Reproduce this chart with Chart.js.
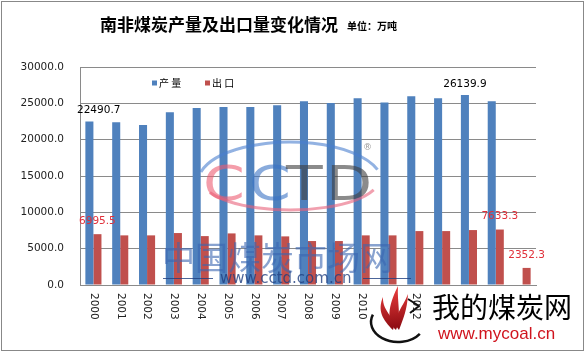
<!DOCTYPE html>
<html>
<head>
<meta charset="utf-8">
<script src="https://cdn.jsdelivr.net/npm/chart.js@4.4.1/dist/chart.umd.min.js"></script>
<style>
  html, body { margin: 0; padding: 0; background: #fff; }
  #wrap { width: 586px; height: 353px; position: relative; }
</style>
</head>
<body>
<div id="wrap"><canvas id="c" width="586" height="353"></canvas></div>
<script>
const years = ['2000','2001','2002','2003','2004','2005','2006','2007','2008','2009','2010','2011','2012','2013','2014','2015','2016'];
const production = [22490.7, 22400, 22030, 23780, 24370, 24500, 24480, 24740, 25290, 25060, 25700, 25100, 25970, 25700, 26139.9, 25290, null];
const exportsData = [6995.5, 6830, 6830, 7150, 6730, 7100, 6830, 6690, 6050, 6050, 6830, 6830, 7420, 7420, 7560, 7633.3, 2352.3];
const yTicks = [0, 5000, 10000, 15000, 20000, 25000, 30000];
const seriesNames = ['产 量', '出 口'];
const prodLabelIdx = [0, 14];
const expLabelIdx = [0, 15, 16];
const titleText = '南非煤炭产量及出口量变化情况';
const unitText = '单位：万吨';

const BLUE = '#4F81BD', RED = '#C0504D', GRID = '#8a8a8a';
const NUMFONT = '10.5px "DejaVu Sans", Verdana, sans-serif';

function flame(ctx, bx, by, tx, ty, w) {
  // teardrop flame from base (bx,by) to tip (tx,ty)
  ctx.beginPath();
  ctx.moveTo(bx, by);
  ctx.bezierCurveTo(bx - w, by - 10, tx - w * 0.6, ty + 14, tx, ty);
  ctx.bezierCurveTo(tx - w * 0.1, ty + 16, bx + w * 0.5, by - 12, bx, by);
  ctx.closePath();
  ctx.fill();
}

const decorPlugin = {
  id: 'decor',
  afterDraw(chart) {
    const ctx = chart.ctx;
    const ca = chart.chartArea;
    const xs = chart.scales.x;
    ctx.save();
    // title
    ctx.fillStyle = '#000';
    ctx.textBaseline = 'middle';
    ctx.textAlign = 'left';
    ctx.font = 'bold 17px "Noto Sans CJK SC", sans-serif';
    ctx.fillText(titleText, 100, 25);
    ctx.font = 'bold 10px "Noto Sans CJK SC", sans-serif';
    ctx.fillText(unitText, 347, 26);

    // legend
    const ly = 83;
    const items = [[ca.left + 72, BLUE, seriesNames[0]], [ca.left + 125, RED, seriesNames[1]]];
    ctx.font = '10px "Noto Sans CJK SC", sans-serif';
    items.forEach(([x, col, name]) => {
      ctx.fillStyle = col;
      ctx.fillRect(x, ly - 2.5, 5, 5);
      ctx.fillStyle = '#000';
      ctx.fillText(name, x + 7, ly);
    });

    // x labels rotated clockwise
    ctx.fillStyle = '#222';
    ctx.font = NUMFONT;
    ctx.textAlign = 'left';
    ctx.textBaseline = 'middle';
    years.forEach((y, i) => {
      const x = xs.getPixelForValue(i);
      ctx.save();
      ctx.translate(x, ca.bottom + 8);
      ctx.rotate(Math.PI / 2);
      ctx.fillText(y, 0, 0);
      ctx.restore();
    });

    // data labels
    ctx.font = NUMFONT;
    ctx.textAlign = 'center';
    ctx.textBaseline = 'middle';
    const m0 = chart.getDatasetMeta(0), m1 = chart.getDatasetMeta(1);
    const drawLab = (el, val, col, dy) => {
      const txt = val.toFixed(1);
      const w = ctx.measureText(txt).width;
      let x = el.x;
      if (x - w / 2 < ca.left - 3) x = ca.left - 3 + w / 2;
      ctx.fillStyle = col;
      ctx.fillText(txt, x, el.y - dy);
    };
    prodLabelIdx.forEach(i => drawLab(m0.data[i], production[i], '#000', 11));
    expLabelIdx.forEach(i => drawLab(m1.data[i], exportsData[i], '#E0303A', 13));

    // CCTD watermark (faint)
    ctx.globalAlpha = 0.6;
    ctx.lineWidth = 3;
    ctx.strokeStyle = '#4a7fcf';
    ctx.beginPath();
    ctx.ellipse(290, 182, 92, 40, 0, 1.08 * Math.PI, 1.9 * Math.PI);
    ctx.stroke();
    ctx.strokeStyle = '#e8607a';
    ctx.beginPath();
    ctx.ellipse(290, 178, 90, 32, 0, 0.12 * Math.PI, 0.85 * Math.PI);
    ctx.stroke();
    ctx.textAlign = 'left';
    ctx.textBaseline = 'alphabetic';
    const letter = (ch, x, col) => {
      ctx.save();
      ctx.translate(x, 200);
      ctx.scale(1.25, 1);
      ctx.fillStyle = col;
      ctx.font = '48px "DejaVu Sans", sans-serif';
      ctx.fillText(ch, 0, 0);
      ctx.restore();
    };
    letter('C', 203, '#ec5b72');
    letter('C', 249, '#3b73c4');
    letter('T', 286, '#3d3d3d');
    letter('D', 326, '#3d3d3d');
    ctx.font = '9px "DejaVu Sans", sans-serif';
    ctx.fillStyle = '#555';
    ctx.fillText('®', 363, 150);
    ctx.textBaseline = 'middle';
    ctx.font = '33px "Noto Sans CJK SC", sans-serif';
    ctx.fillStyle = '#3a66b0';
    ctx.fillText('中国煤炭市场网', 162, 257);
    ctx.globalAlpha = 0.8;
    ctx.fillStyle = '#1f3f80';
    ctx.fillRect(163, 278, 50, 1);
    ctx.fillRect(363, 278, 48, 1);
    ctx.font = '15px "DejaVu Sans", sans-serif';
    ctx.fillText('www.cctd.com.cn', 220, 279);
    ctx.globalAlpha = 1;

    // mycoal logo
    ctx.fillStyle = '#fff';
    ctx.fillRect(378, 289, 28, 40);
    ctx.fillRect(426, 287, 152, 60);
    ctx.strokeStyle = '#111';
    ctx.lineWidth = 2.5;
    ctx.beginPath();
    ctx.ellipse(398, 322, 27, 20, 0, 0.2 * Math.PI, 1.12 * Math.PI);
    ctx.stroke();
    ctx.beginPath();
    ctx.moveTo(408, 299); ctx.lineTo(419, 306); ctx.lineTo(410, 313);
    ctx.lineWidth = 2;
    ctx.stroke();
    const g = ctx.createLinearGradient(390, 285, 395, 330);
    g.addColorStop(0, '#f04040'); g.addColorStop(1, '#8a0a10');
    ctx.fillStyle = g;
    flame(ctx, 393, 330, 383, 297, 10);
    flame(ctx, 396, 330, 398, 286, 12);
    flame(ctx, 399, 330, 408, 294, 9);

    ctx.fillStyle = '#000';
    ctx.textAlign = 'left';
    ctx.textBaseline = 'middle';
    ctx.font = '28px "Noto Sans CJK SC", sans-serif';
    ctx.fillText('我的煤炭网', 432, 307);
    ctx.fillStyle = '#d0141e';
    ctx.font = '17px "Liberation Sans", Arial, sans-serif';
    ctx.fillText('www.mycoal.cn', 438, 334);

    // outer frame
    ctx.strokeStyle = '#888';
    ctx.lineWidth = 1;
    ctx.strokeRect(1.5, 1.5, 582, 349);
    ctx.restore();
  }
};

new Chart(document.getElementById('c'), {
  type: 'bar',
  data: {
    labels: years,
    datasets: [
      { label: seriesNames[0], data: production, backgroundColor: BLUE, categoryPercentage: 0.6, barPercentage: 1.0 },
      { label: seriesNames[1], data: exportsData, backgroundColor: RED, categoryPercentage: 0.6, barPercentage: 1.0 }
    ]
  },
  options: {
    responsive: false,
    animation: false,
    layout: { padding: { left: 0, top: 67, right: 50, bottom: 68 } },
    plugins: { legend: { display: false }, tooltip: { enabled: false }, title: { display: false } },
    scales: {
      x: {
        grid: { display: false, drawTicks: false },
        border: { display: true, color: GRID },
        ticks: { display: false },
        afterFit(s) { s.height = 0; }
      },
      y: {
        min: 0, max: 30000,
        afterBuildTicks(s) { s.ticks = yTicks.map(v => ({ value: v })); },
        afterFit(s) { s.width = 80; },
        grid: { color: GRID, drawTicks: false },
        border: { display: true, color: GRID },
        ticks: {
          padding: 16,
          color: '#222',
          font: { family: '"DejaVu Sans", Verdana, sans-serif', size: 10.5 },
          callback: v => Number(v).toFixed(1)
        }
      }
    }
  },
  plugins: [decorPlugin]
});
</script>
</body>
</html>
